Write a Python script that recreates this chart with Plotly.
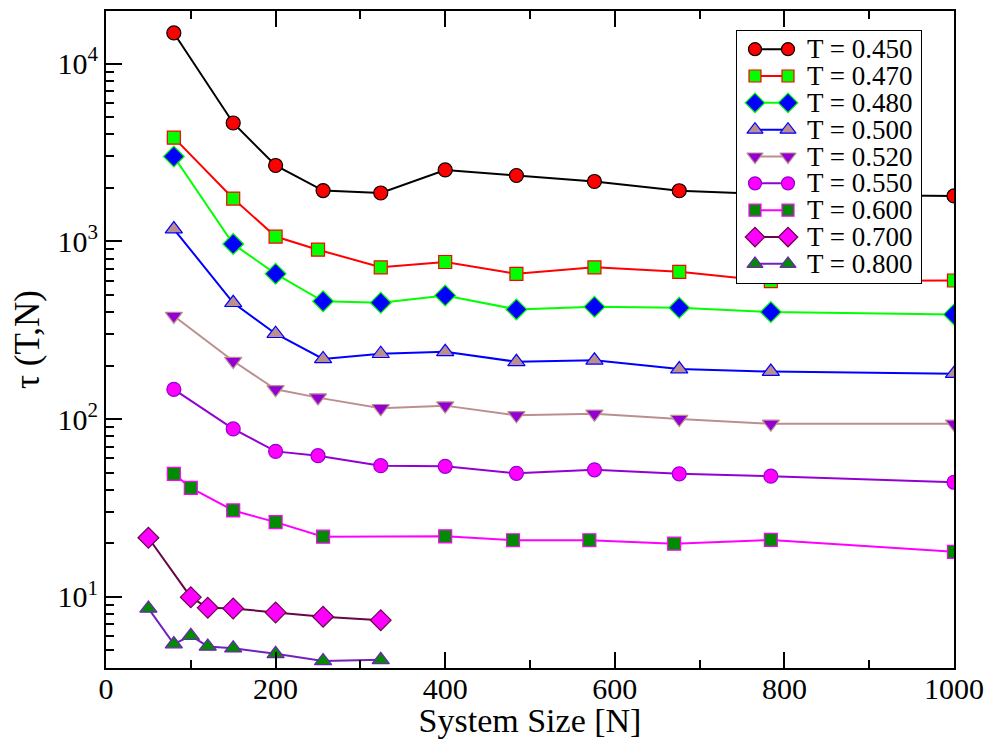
import plotly.graph_objects as go

# ---- data ----
labels = ["T = 0.450", "T = 0.470", "T = 0.480", "T = 0.500", "T = 0.520",
          "T = 0.550", "T = 0.600", "T = 0.700", "T = 0.800"]

n_450 = [80, 150, 200, 256, 324, 400, 484, 576, 676, 784, 1000]
tau_450 = [14860, 4630, 2670, 1930, 1870, 2520, 2345, 2170, 1925, 1840, 1800]

n_470 = [80, 150, 200, 250, 324, 400, 484, 576, 676, 784, 1000]
tau_470 = [3830, 1740, 1063, 897, 714, 765, 656, 714, 673, 597, 602]

n_480 = [80, 150, 200, 256, 324, 400, 484, 576, 676, 784, 1000]
tau_480 = [3000, 966, 656, 460, 451, 496, 414, 428, 423, 400, 388]

n_500 = [80, 150, 200, 256, 324, 400, 484, 576, 676, 784, 1000]
tau_500 = [1172, 451, 302, 218, 233, 239, 210, 214, 191, 185, 180]

n_520 = [80, 150, 200, 250, 324, 400, 484, 576, 676, 784, 1000]
tau_520 = [380, 212, 147, 132, 115, 119, 105, 107, 100, 94, 94]

n_550 = [80, 150, 200, 250, 324, 400, 484, 576, 676, 784, 1000]
tau_550 = [147, 88, 65.8, 62.2, 54.7, 54.2, 49.5, 51.8, 49.2, 47.7, 44.1]

n_600 = [80, 100, 150, 200, 256, 400, 480, 570, 670, 784, 1000]
tau_600 = [49.2, 41.0, 30.6, 26.3, 21.8, 21.9, 20.8, 20.8, 19.9, 20.9, 17.9]

n_700 = [50, 100, 120, 150, 200, 256, 324]
tau_700 = [21.5, 9.95, 8.67, 8.6, 8.17, 7.72, 7.39]

n_800 = [50, 80, 100, 120, 150, 200, 256, 324]
tau_800 = [8.6, 5.42, 6.04, 5.26, 5.14, 4.78, 4.36, 4.42]

x_ticks = [0, 200, 400, 600, 800, 1000]
y_tickvals = [10, 100, 1000, 10000]
y_ticktext = ["10<sup>1</sup>", "10<sup>2</sup>", "10<sup>3</sup>", "10<sup>4</sup>"]

# ---- styles ----
styles = [
    dict(line="#000000", fill="#ff0000", symbol="circle", size=14),
    dict(line="#ff0000", fill="#00ff00", symbol="square", size=13),
    dict(line="#00ff00", fill="#0000ff", symbol="diamond", size=16),
    dict(line="#0000ff", fill="#bc8f8f", symbol="triangle-up", size=15),
    dict(line="#bc8f8f", fill="#9400d3", symbol="triangle-down", size=15),
    dict(line="#9400d3", fill="#ff00ff", symbol="circle", size=14),
    dict(line="#ff00ff", fill="#008b00", symbol="square", size=13),
    dict(line="#670748", fill="#ff00ff", symbol="diamond", size=16),
    dict(line="#7221bc", fill="#008b00", symbol="triangle-up", size=15),
]

series = [(n_450, tau_450), (n_470, tau_470), (n_480, tau_480), (n_500, tau_500),
          (n_520, tau_520), (n_550, tau_550), (n_600, tau_600), (n_700, tau_700),
          (n_800, tau_800)]

font_family = "Liberation Serif"

fig = go.Figure()
for (xs, ys), lab, st in zip(series, labels, styles):
    fig.add_trace(go.Scatter(
        x=xs, y=ys, name=lab, mode="lines+markers", showlegend=False,
        line=dict(color=st["line"], width=2),
        marker=dict(symbol=st["symbol"], size=st["size"], color=st["fill"],
                    line=dict(color=st["line"], width=1.2)),
    ))

# ---- legend box (Grace-style: line with a marker at each end) ----
# legend drawn in its own small overlapping subplot (x2/y2), in box-pixel units
sym_left, sym_right, text_x = 18, 51, 69
for i, (lab, st) in enumerate(zip(labels, styles)):
    fig.add_trace(go.Scatter(
        x=[sym_left, sym_right], y=[i, i], mode="lines+markers",
        xaxis="x2", yaxis="y2", showlegend=False, hoverinfo="skip",
        cliponaxis=False,
        line=dict(color=st["line"], width=2),
        marker=dict(symbol=st["symbol"], size=st["size"] - 1, color=st["fill"],
                    line=dict(color=st["line"], width=1.2)),
    ))
    fig.add_annotation(
        x=text_x, y=i, xref="x2", yref="y2", text=lab, showarrow=False,
        xanchor="left", yanchor="middle", height=26, valign="middle",
        borderpad=0,
        font=dict(family=font_family, size=27, color="black"),
    )

fig.update_layout(
    width=978, height=731,
    margin=dict(l=98, r=32, t=1, b=71),
    paper_bgcolor="white", plot_bgcolor="white",
    font=dict(family=font_family, color="black", size=30),
    showlegend=False,
    xaxis=dict(
        range=[0, 1000], tickvals=x_ticks, ticks="inside", ticklen=16, tickwidth=1.5,
        tickcolor="black", showline=True, linecolor="black", linewidth=2,
        mirror="ticks", showgrid=False, zeroline=False,
        tickfont=dict(family=font_family, size=30),
        ticklabelstandoff=-7,
        minor=dict(ticks="inside", ticklen=8, dtick=100, tickwidth=1.5,
                   tickcolor="black", showgrid=False),
        title=dict(text="System Size [N]", font=dict(family=font_family, size=34),
                   standoff=0),
    ),
    yaxis=dict(
        type="log", range=[0.5995, 4.2956],
        tickvals=y_tickvals, ticktext=y_ticktext,
        ticks="inside", ticklen=16, tickwidth=1.5, tickcolor="black",
        showline=True, linecolor="black", linewidth=2, mirror=True,
        showgrid=False, zeroline=False,
        tickfont=dict(family=font_family, size=30),
        minor=dict(ticks="inside", ticklen=8, dtick="D1", tickwidth=1.5,
                   tickcolor="black", showgrid=False),
        title=dict(text="τ (T,N)", font=dict(family=font_family, size=35),
                   standoff=8),
    ),
    xaxis2=dict(
        domain=[0.7441, 0.9611], anchor="y2", range=[0, 184],
        showline=True, linecolor="black", linewidth=1, mirror=True,
        showticklabels=False, ticks="", showgrid=False, zeroline=False,
        fixedrange=True,
    ),
    yaxis2=dict(
        domain=[0.5857, 0.9697], anchor="x2", range=[8.72, -0.68],
        showline=True, linecolor="black", linewidth=1, mirror=True,
        showticklabels=False, ticks="", showgrid=False, zeroline=False,
        fixedrange=True,
    ),
)

fig.write_html("out.html")
